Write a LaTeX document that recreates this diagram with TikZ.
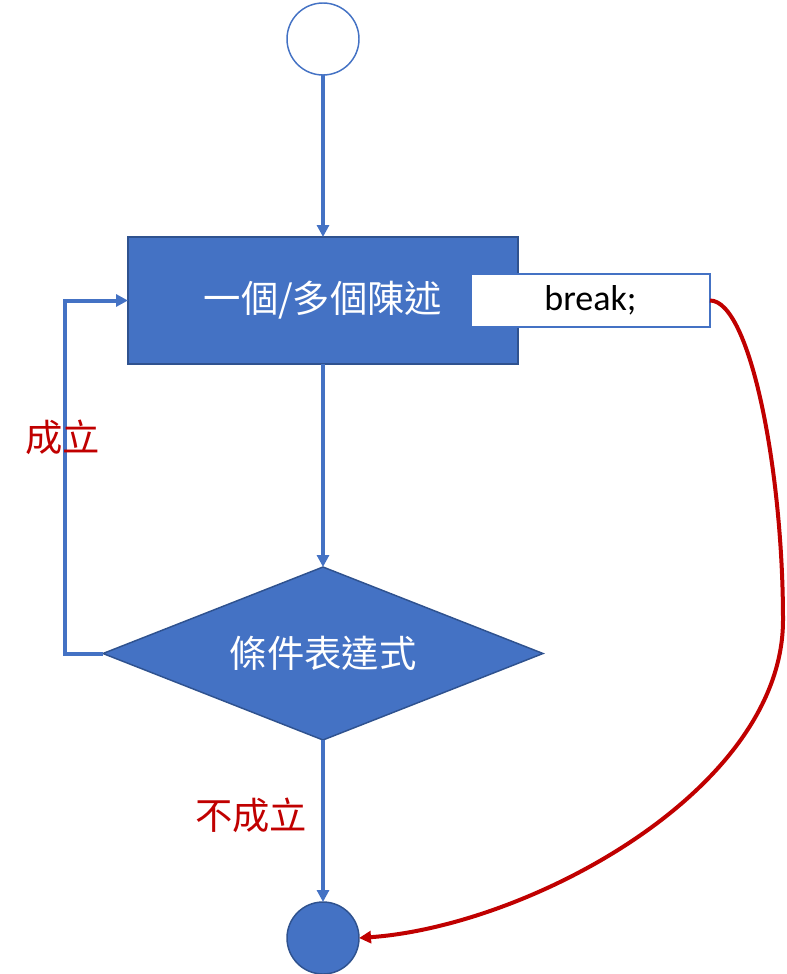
\documentclass[tikz,border=0pt]{standalone}
\usepackage{fontspec}
\setmainfont{Carlito}
\newfontfamily\cjk{Noto Sans CJK TC}
\usepackage{xcolor}
\definecolor{flowblue}{HTML}{4472C4}
\definecolor{flowborder}{HTML}{2F528F}
\definecolor{flowred}{HTML}{C00000}
\usetikzlibrary{positioning,arrows.meta,shapes.geometric}
\tikzset{
    startnode/.style={
        circle,
        draw=flowblue,
        fill=white,
        line width=1.1pt,
        minimum size=54pt,
        inner sep=0pt,
        outer sep=0pt,
    },
    endnode/.style={
        circle,
        draw=flowborder,
        fill=flowblue,
        line width=1.1pt,
        minimum size=54pt,
        inner sep=0pt,
        outer sep=0pt,
    },
    process/.style={
        rectangle,
        draw=flowborder,
        fill=flowblue,
        text=white,
        minimum width=292.5pt,
        minimum height=95.25pt,
        line width=1.2pt,
        outer sep=0pt,
        font=\cjk\fontsize{28}{34}\selectfont,
    },
    breakbox/.style={
        rectangle,
        draw=flowblue,
        fill=white,
        text=black,
        minimum width=179.25pt,
        minimum height=39.75pt,
        line width=1pt,
        outer sep=0pt,
        font=\fontsize{27}{32}\selectfont,
    },
    decision/.style={
        diamond,
        draw=flowborder,
        fill=flowblue,
        text=white,
        shape aspect=2.54,
        minimum width=330pt,
        minimum height=129.75pt,
        inner sep=0pt,
        outer sep=0pt,
        line width=1.1pt,
        font=\cjk\fontsize{28}{34}\selectfont,
    },
    flow/.style={
        -{Triangle[length=9pt,width=9pt]},
        line width=3pt,
        flowblue,
    },
    breakline/.style={
        -{Triangle[length=9pt,width=9pt]},
        line width=3pt,
        flowred,
    },
    textlabel/.style={
        text=flowred,
        font=\cjk\fontsize{28}{34}\selectfont,
    },
}
\begin{document}
\begin{tikzpicture}[x=0.75pt, y=-0.75pt]
    \useasboundingbox (0,0) rectangle (787,974);
    \node[startnode] (start) at (323,39) {};
    \node[process, below=121.5pt of start] (body) {一個/多個陳述};
    \node[breakbox, right=-35.25pt of body] (brk) {break;};
    \node[decision, below=152.25pt of body] (cond) {條件表達式};
    \node[endnode, below=121.5pt of cond] (stop) {};
    
    \draw[flow] (start) -- (body);
    \draw[flow] (body) -- (cond);
    \draw[flow] (cond) -- (stop);
    \draw[flow] (cond.west) -- ++(-38,0) |- (body.west);
    
    \coordinate (bend) at (783,620);
    \draw[breakline] (brk.east) .. controls +(40,0) and +(0,-150) .. (bend)
        .. controls +(0,170) and +(170,-12) .. (stop.east);
    
    \node[textlabel] (yes) at (63,437) {成立};
    \node[textlabel] (no) at (251,815) {不成立};
\end{tikzpicture}
\end{document}
